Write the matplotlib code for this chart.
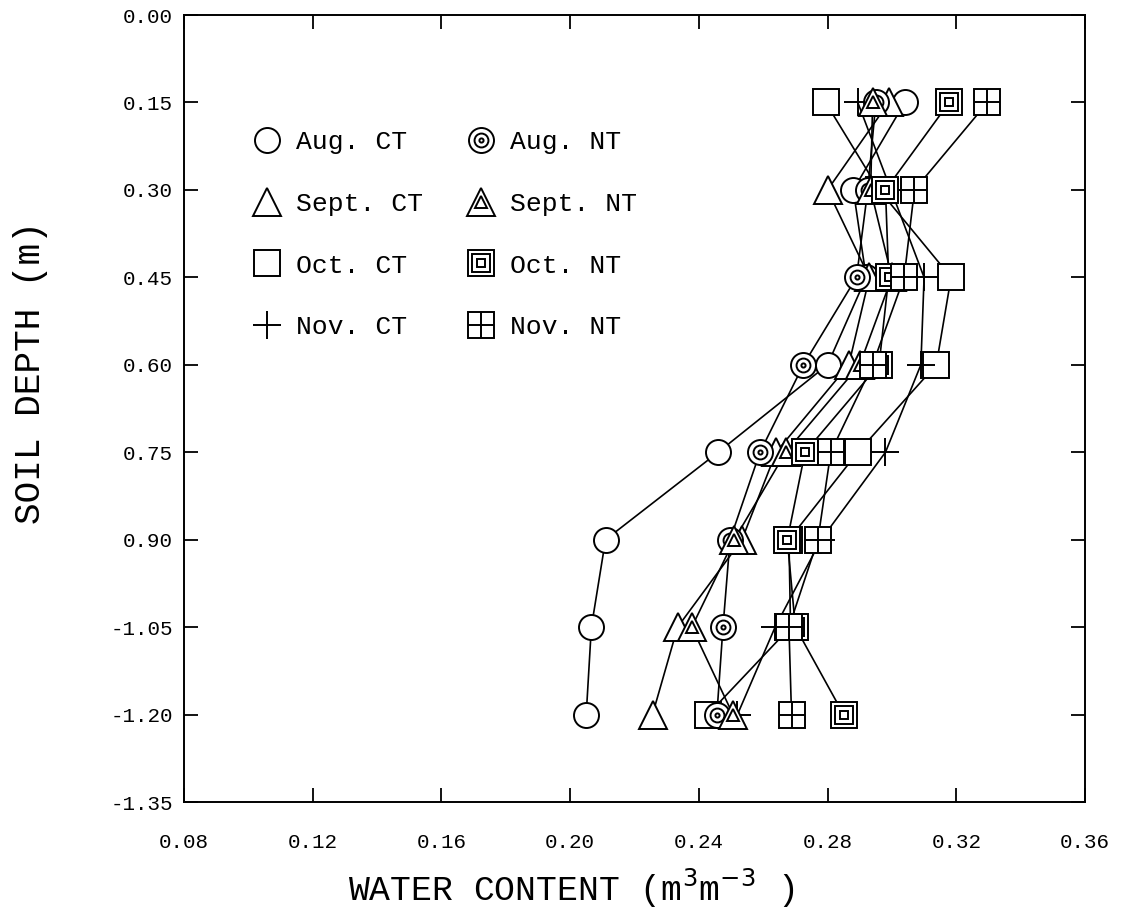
import matplotlib
matplotlib.use("Agg")
import matplotlib.pyplot as plt
from matplotlib.legend_handler import HandlerTuple
from matplotlib.lines import Line2D

# soil depth (m) and volumetric water content (m3 m-3)
depth = [0.15, 0.30, 0.45, 0.60, 0.75, 0.90, 1.05, 1.20]

aug_ct = [0.304, 0.288, 0.292, 0.280, 0.246, 0.211, 0.2066, 0.205]
aug_nt = [0.295, 0.2925, 0.289, 0.2725, 0.259, 0.2497, 0.2475, 0.2456]
sept_ct = [0.299, 0.280, 0.293, 0.2866, 0.264, 0.2534, 0.2334, 0.2256]
sept_nt = [0.294, 0.2934, 0.300, 0.290, 0.267, 0.251, 0.2378, 0.2506]
oct_ct = [0.2794, 0.296, 0.3184, 0.3138, 0.2894, 0.268, 0.2685, 0.2428]
oct_nt = [0.3178, 0.298, 0.299, 0.296, 0.273, 0.2675, 0.270, 0.285]
nov_ct = [0.2894, 0.2997, 0.310, 0.309, 0.298, 0.278, 0.2637, 0.252]
nov_nt = [0.3297, 0.307, 0.3038, 0.294, 0.281, 0.277, 0.268, 0.2688]

x_ticks = [0.08, 0.12, 0.16, 0.20, 0.24, 0.28, 0.32, 0.36]
y_ticks = [0.00, 0.15, 0.30, 0.45, 0.60, 0.75, 0.90, 1.05, 1.20, 1.35]
y_tick_labels = ["0.00", "0.15", "0.30", "0.45", "0.60", "0.75", "0.90",
                 "-1.05", "-1.20", "-1.35"]

plt.rcParams["font.family"] = ["Liberation Mono", "DejaVu Sans Mono"]

# marker layers drawn on top of each other: (marker, size)
styles = {
    "Aug. CT": [("o", 18)],
    "Sept. CT": [("^", 20)],
    "Oct. CT": [("s", 19)],
    "Nov. CT": [("+", 20)],
    "Aug. NT": [("o", 18), ("o", 10), ("o", 3)],
    "Sept. NT": [("^", 20), ("^", 9)],
    "Oct. NT": [("s", 19), ("s", 13), ("s", 6)],
    "Nov. NT": [("s", 19), ("+", 19)],
}
series = {
    "Aug. CT": aug_ct,
    "Sept. CT": sept_ct,
    "Oct. CT": oct_ct,
    "Nov. CT": nov_ct,
    "Aug. NT": aug_nt,
    "Sept. NT": sept_nt,
    "Oct. NT": oct_nt,
    "Nov. NT": nov_nt,
}

fig = plt.figure(figsize=(11.22, 9.21), dpi=100)
ax = fig.add_axes([0.164, 0.1292, 0.803, 0.8545])

for name, vals in series.items():
    ax.plot(vals, depth, color="k", lw=1.2, zorder=1)

handles = []
for i, (name, vals) in enumerate(series.items()):
    parts = []
    for j, (m, s) in enumerate(styles[name]):
        ax.plot(vals, depth, ls="none", marker=m, ms=s, mfc="white",
                mec="k", mew=1.4, zorder=2 + i * 0.1 + j * 0.01)
        parts.append(Line2D([], [], ls="none", marker=m, ms=s,
                            mfc="white", mec="k", mew=1.4))
    handles.append(tuple(parts))

ax.legend(handles, list(series.keys()), ncol=2, frameon=False,
          handler_map={tuple: HandlerTuple(ndivide=1)},
          loc="upper left", bbox_to_anchor=(0.048, 0.884),
          fontsize=19, labelspacing=1.43, columnspacing=1.6,
          handletextpad=0.5, handlelength=1.2)

ax.set_xlim(0.08, 0.36)
ax.set_ylim(1.35, 0.0)
ax.set_xticks(x_ticks)
ax.set_xticklabels([f"{v:.2f}" for v in x_ticks])
ax.set_yticks(y_ticks)
ax.set_yticklabels(y_tick_labels)
ax.tick_params(direction="in", length=10, width=1.3, top=True, right=True,
               labelsize=15)
ax.tick_params(axis="x", pad=22)
ax.tick_params(axis="y", pad=8)
for sp in ax.spines.values():
    sp.set_linewidth(1.4)

fig.text(0.509, 0.022, "WATER CONTENT (m$^3$m$^{-3}$ )", fontsize=25,
         ha="center", va="baseline")
fig.text(0.027, 0.595, "SOIL DEPTH (m)", fontsize=26, rotation=90,
         ha="center", va="center")

fig.savefig("out.png", dpi=100, facecolor="white")
